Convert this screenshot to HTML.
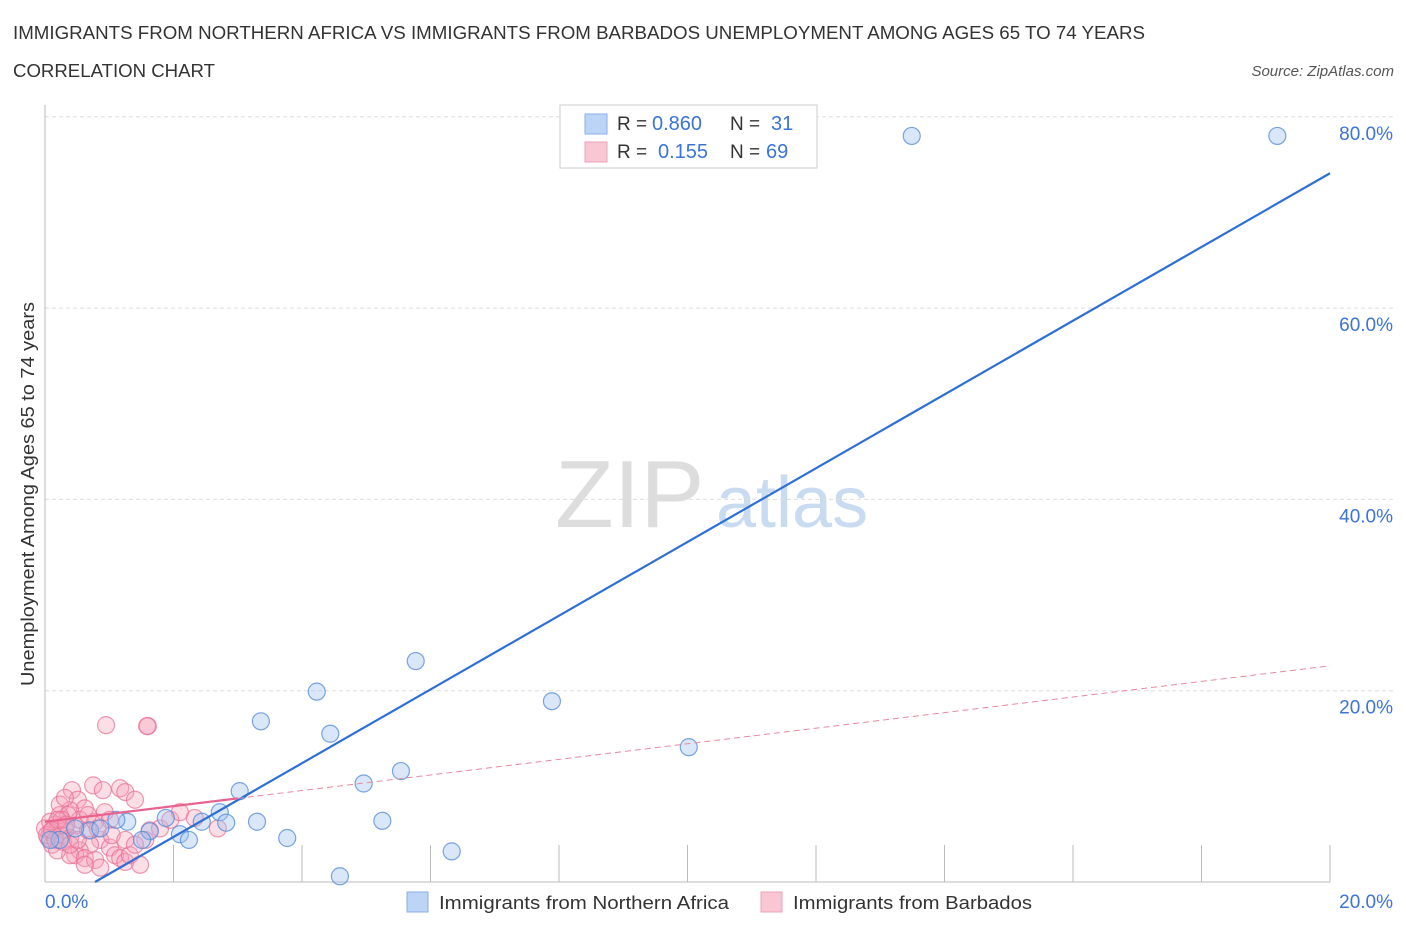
<!DOCTYPE html>
<html><head><meta charset="utf-8"><style>
body{margin:0;background:#fff;font-family:"Liberation Sans",sans-serif;}
svg text{font-family:"Liberation Sans",sans-serif;}
</style></head><body>
<svg id="chart" width="1406" height="930" xmlns="http://www.w3.org/2000/svg">
<text x="13" y="39" font-size="18" fill="#333" textLength="1132" lengthAdjust="spacingAndGlyphs">IMMIGRANTS FROM NORTHERN AFRICA VS IMMIGRANTS FROM BARBADOS UNEMPLOYMENT AMONG AGES 65 TO 74 YEARS</text>
<text x="13" y="77" font-size="18" fill="#333" textLength="202" lengthAdjust="spacingAndGlyphs">CORRELATION CHART</text>
<text x="1394" y="76" font-size="15" fill="#555" text-anchor="end" font-style="italic">Source: ZipAtlas.com</text>
<text x="555" y="527" font-size="96" fill="#ddd" font-family="Liberation Serif">ZIP</text>
<text x="716" y="527" font-size="72" fill="#c9dbf0">atlas</text>
<g id="grid"></g><g id="pts"></g><g id="lines"></g>
<text transform="translate(34,494) rotate(-90)" font-size="18" fill="#333" text-anchor="middle" textLength="384" lengthAdjust="spacingAndGlyphs">Unemployment Among Ages 65 to 74 years</text>
<text x="45" y="908" font-size="19" fill="#3b74d6">0.0%</text>
<text x="1393" y="908" font-size="19" fill="#3b74d6" text-anchor="end">20.0%</text>
<g>
<rect x="560" y="105" width="257" height="63" fill="#fff" stroke="#ccc"/>
<rect x="585" y="114" width="22" height="20" fill="#bcd4f5" stroke="#8aaee6"/>
<rect x="585" y="142" width="22" height="20" fill="#f9c6d4" stroke="#eea0b6"/>
<text x="617" y="130" font-size="19" fill="#333">R =</text><text x="652" y="130" font-size="20" fill="#3b74d6">0.860</text>
<text x="730" y="130" font-size="19" fill="#333">N =</text><text x="771" y="130" font-size="20" fill="#3b74d6">31</text>
<text x="617" y="158" font-size="19" fill="#333">R =</text><text x="658" y="158" font-size="20" fill="#3b74d6">0.155</text>
<text x="730" y="158" font-size="19" fill="#333">N =</text><text x="766" y="158" font-size="20" fill="#3b74d6">69</text>
</g>
<g><rect x="407" y="892" width="21" height="20" fill="#bcd4f5" stroke="#8aaee6"/><text x="439" y="909" font-size="18" fill="#333" textLength="290" lengthAdjust="spacingAndGlyphs">Immigrants from Northern Africa</text></g>
<g><rect x="761" y="892" width="21" height="20" fill="#f9c6d4" stroke="#eea0b6"/><text x="793" y="909" font-size="18" fill="#333" textLength="239" lengthAdjust="spacingAndGlyphs">Immigrants from Barbados</text></g>
</svg>
<script>
const yTicks=[20,40,60,80];
const yTickLabels=["20.0%","40.0%","60.0%","80.0%"];
const xTicks=[2,4,6,8,10,12,14,16,18,20];
const blueX=[13.49,19.18,5.77,4.23,7.89,3.36,4.44,10.02,5.54,4.96,3.03,2.72,1.88,1.28,1.11,2.44,2.82,3.30,5.25,1.63,2.10,2.24,1.51,3.77,6.33,4.59,0.70,0.23,0.47,0.86,0.08];
const blueY=[78.0,78.0,23.1,19.9,18.9,16.8,15.5,14.1,11.6,10.3,9.5,7.3,6.7,6.3,6.5,6.3,6.2,6.3,6.4,5.3,5.0,4.4,4.4,4.6,3.2,0.6,5.4,4.4,5.6,5.6,4.4];
const pinkX=[0.95,1.60,1.59,.42,.75,.51,.62,.90,1.17,1.25,1.40,.39,.23,.16,.31,.08,.05,.11,.20,.26,.39,.47,.54,.67,.78,.93,1.01,.86,.70,.54,.47,.39,.62,.78,1.01,1.09,1.17,1.25,1.32,1.48,.86,.62,1.63,1.79,1.95,2.33,2.69,2.10,1.56,.23,.31,.36,0,.03,.08,.16,.19,.28,.39,.51,.67,.82,1.04,1.25,1.40,.26,.11,.20,.33];
const pinkY=[16.4,16.3,16.3,9.6,10.1,8.6,7.7,9.6,9.8,9.4,8.6,7.5,7.0,6.0,5.4,5.2,4.6,3.9,5.6,4.9,4.6,5.9,6.5,5.4,6.3,7.3,6.5,4.4,3.9,3.3,2.8,2.8,2.5,2.3,3.6,2.8,2.5,2.1,2.8,1.8,1.5,1.8,5.4,5.6,6.5,6.7,5.6,7.3,4.4,8.1,8.8,7.0,5.6,4.9,6.3,4.4,3.3,4.2,3.9,4.4,7.0,5.6,4.9,4.4,3.9,6.5,5.4,6.5,6.0];
const blueFit=[-3.0,3.855];
const pinkFit=[6.3,0.815];
const X=v=>45+v*64.25, Y=v=>882-v*9.565;
const NS="http://www.w3.org/2000/svg";
function mk(tag,attrs,parent){const e=document.createElementNS(NS,tag);for(const k in attrs)e.setAttribute(k,attrs[k]);document.getElementById(parent).appendChild(e);return e;}
yTicks.forEach((t,i)=>{
 const l=mk('line',{x1:45,x2:1395,y1:Y(t),y2:Y(t),stroke:'#ddd','stroke-dasharray':'4,3'},'grid');
 
 
 const tx=mk('text',{x:1393,y:Y(t)+23,'font-size':19,fill:'#3b74d6','text-anchor':'end'},'grid');tx.textContent=yTickLabels[i];
 
 
});
xTicks.forEach(t=>{
 const l=mk('line',{x1:X(t),x2:X(t),y1:845,y2:882,stroke:'#bbb'},'grid');
 
 
});
let a=mk('line',{x1:45,x2:45,y1:105,y2:882,stroke:'#bbb'},'grid');


a=mk('line',{x1:45,x2:1330,y1:882,y2:882,stroke:'#bbb'},'grid');


pinkX.forEach((x,i)=>{
 const c=mk('circle',{cx:X(x),cy:Y(pinkY[i]),r:8.5,fill:'rgba(245,160,185,0.35)',stroke:'rgba(232,110,145,0.7)','stroke-width':1.2},'pts');
 
 
});
blueX.forEach((x,i)=>{
 const c=mk('circle',{cx:X(x),cy:Y(blueY[i]),r:8.5,fill:'rgba(160,195,240,0.4)',stroke:'rgba(80,135,215,0.75)','stroke-width':1.2},'pts');
 
 
});
const bx0=-blueFit[0]/blueFit[1];
let ln=mk('line',{x1:X(bx0),y1:Y(0),x2:X(20),y2:Y(blueFit[0]+blueFit[1]*20),stroke:'#2e6fd6','stroke-width':2.2},'lines');


ln=mk('line',{x1:X(0),y1:Y(pinkFit[0]),x2:X(3),y2:Y(pinkFit[0]+pinkFit[1]*3),stroke:'#e8648e','stroke-width':2.2},'lines');


ln=mk('line',{x1:X(3),y1:Y(pinkFit[0]+pinkFit[1]*3),x2:X(20),y2:Y(pinkFit[0]+pinkFit[1]*20),stroke:'#e8889f','stroke-width':1,'stroke-dasharray':'6,4'},'lines');


</script>
</body></html>
